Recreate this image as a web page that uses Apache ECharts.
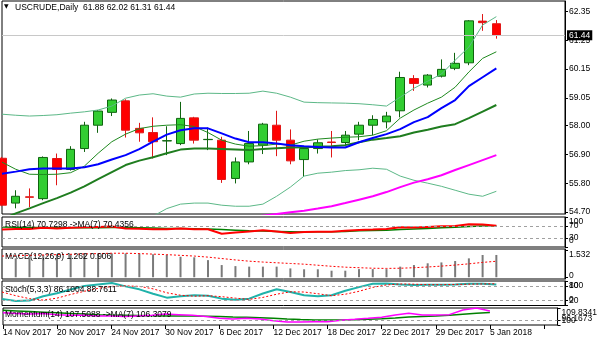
<!DOCTYPE html>
<html>
<head>
<meta charset="utf-8">
<script src="https://cdn.jsdelivr.net/npm/echarts@6/dist/echarts.min.js"></script>
<style>
  html, body { margin: 0; padding: 0; background: #fff; }
  #c { width: 600px; height: 343px; }
</style>
</head>
<body>
<div id="c"></div>
<script>
// ---- daily bars, USCRUDE ----
const dates = [
  '14 Nov 2017','15 Nov 2017','16 Nov 2017','17 Nov 2017','20 Nov 2017','21 Nov 2017','22 Nov 2017',
  '23 Nov 2017','24 Nov 2017','27 Nov 2017','28 Nov 2017','29 Nov 2017','30 Nov 2017','1 Dec 2017',
  '4 Dec 2017','5 Dec 2017','6 Dec 2017','7 Dec 2017','8 Dec 2017','11 Dec 2017','12 Dec 2017',
  '13 Dec 2017','14 Dec 2017','15 Dec 2017','18 Dec 2017','19 Dec 2017','20 Dec 2017','21 Dec 2017',
  '22 Dec 2017','26 Dec 2017','27 Dec 2017','28 Dec 2017','29 Dec 2017','2 Jan 2018','3 Jan 2018',
  '4 Jan 2018','5 Jan 2018'
];

// open, high, low, close
const ohlc = [
  [56.75,56.80,54.92,54.96],[55.04,55.53,54.84,55.30],[55.28,55.60,54.89,55.26],[55.21,56.82,55.15,56.78],
  [56.74,56.93,55.72,56.32],[56.32,57.21,56.28,57.09],[57.12,58.14,56.99,58.01],[58.01,58.59,57.72,58.55],
  [58.50,59.03,58.36,58.97],[58.94,59.00,57.54,57.82],[57.89,58.10,57.38,57.72],[57.73,58.31,56.74,57.38],
  [57.41,57.97,56.87,57.42],[57.31,58.90,57.25,58.27],[58.29,58.33,57.31,57.44],[57.46,57.92,57.06,57.47],
  [57.44,57.57,55.81,55.94],[55.98,56.78,55.79,56.61],[56.61,57.79,56.52,57.31],[57.25,58.10,56.91,58.05],
  [58.01,58.56,56.83,57.44],[57.44,57.85,56.52,56.65],[56.70,57.18,56.04,57.12],[57.12,57.47,56.93,57.34],
  [57.37,57.79,56.78,57.35],[57.35,57.79,57.21,57.63],[57.67,58.14,57.44,58.01],[58.01,58.39,57.63,58.23],
  [58.14,58.52,57.89,58.36],[58.56,60.05,58.31,59.83],[59.79,59.92,59.32,59.60],[59.54,59.96,59.45,59.92],
  [59.88,60.52,59.83,60.14],[60.18,60.77,60.11,60.37],[60.39,62.02,60.30,61.99],[61.98,62.25,61.61,61.92],
  [61.88,62.02,61.31,61.44]
];

// price overlays
const bandUpper = [58.43,58.39,58.36,58.38,58.41,58.47,58.52,58.59,58.74,59.04,59.16,59.21,59.12,59.08,59.20,
  59.23,59.22,59.22,59.23,59.31,59.23,59.08,58.89,58.87,58.86,58.85,58.83,58.79,58.74,59.08,59.42,59.69,59.96,
  60.49,60.99,61.83,62.15];
const bandLower = [null,null,null,null,null,null,null,null,null,null,null,54.54,54.83,55.00,55.04,55.04,54.96,
  54.92,54.92,55.00,55.30,55.65,56.07,56.18,56.22,56.28,56.31,56.37,56.33,56.07,55.91,55.80,55.68,55.53,55.38,
  55.30,55.49];
const maFast = [56.60,56.33,56.14,56.13,56.14,56.20,56.45,56.94,57.38,57.67,57.88,57.97,58.01,58.03,57.96,57.73,
  57.44,57.29,57.21,57.23,57.29,57.25,57.40,57.48,57.52,57.55,57.57,57.63,57.80,58.28,58.59,58.85,59.08,59.46,
  60.04,60.56,60.81];
const maBlue = [56.16,56.24,56.33,56.36,56.36,56.36,56.41,56.52,56.70,56.87,57.10,57.38,57.65,57.82,57.89,57.89,
  57.70,57.50,57.36,57.36,57.31,57.25,57.21,57.18,57.16,57.16,57.36,57.52,57.67,57.86,58.13,58.32,58.66,58.97,
  59.50,59.84,60.18];
const maMid = [54.42,54.65,54.84,55.04,55.23,55.44,55.68,55.95,56.22,56.49,56.66,56.79,56.94,57.08,57.12,57.12,
  57.10,57.08,57.06,57.10,57.13,57.16,57.17,57.19,57.21,57.25,57.36,57.46,57.52,57.59,57.73,57.84,57.96,58.05,
  58.28,58.53,58.78];
const maSlow = [null,null,null,null,null,null,null,null,null,null,null,null,null,null,null,null,null,null,
  54.50,54.56,54.62,54.69,54.75,54.83,54.92,55.04,55.17,55.30,55.46,55.65,55.82,55.95,56.10,56.30,56.49,56.68,56.87];

const priceTicks = [54.70,55.80,56.90,58.00,59.05,60.15,61.25,62.35];
const lastPrice = 61.44;

// RSI(14) and its MA(7)
const rsi = [58,60,60,64,62,64,66,67,68,62,61,59,59,62,59,59,44,48,52,56,52,47,50,51,51,54,57,58,60,66,65,67,
  69,70,76,75,70.73];
const rsiMa = [67,66,65,65,64,64,64,64,65,65,64,63,62,62,61,60,58,56,54,53,52,51,50,51,51,52,54,55,56,58,60,62,
  64,66,68,70,70.44];
const rsiLevels = [30,70];
const rsiEdges = [0,100];

// MACD(12,26,9)
const macdMain = [1.07,1.07,1.10,1.26,1.30,1.31,1.35,1.35,1.35,1.35,1.35,1.30,1.26,1.16,1.13,0.97,0.69,0.63,
  0.60,0.60,0.60,0.50,0.45,0.45,0.37,0.37,0.46,0.46,0.46,0.60,0.69,0.79,0.84,0.92,1.07,1.26,1.262];
const macdSignal = [1.20,1.22,1.24,1.26,1.28,1.30,1.32,1.34,1.36,1.36,1.34,1.31,1.28,1.24,1.20,1.14,1.06,0.98,
  0.91,0.86,0.82,0.78,0.74,0.68,0.62,0.57,0.54,0.51,0.50,0.51,0.54,0.58,0.63,0.69,0.76,0.84,0.906];
const macdTicks = [0,1.532];

// Stochastic(5,3,3)
const stochK = [27,18,20,38,50,65,80,86,92,78,66,48,32,38,42,40,28,23,28,49,66,55,42,38,42,60,75,89,90,86,84,
  85,85,86,89,89,86.1004];
const stochD = [55,40,28,22,30,45,58,70,78,80,78,68,52,42,38,40,36,30,25,33,46,56,55,48,40,46,58,74,84,88,87,
  85,85,86,87,88,88.7611];
const stochLevels = [20,80];
const stochEdges = [0,100];

// Momentum(14) and its MA(7)
const mom = [106,105.5,105,105.5,104.5,104,104,103.5,103.5,103,103.5,104,105,104.5,104,103,101.5,101,101.5,
  101,99.5,98.5,98.5,98.8,98.8,100,100.7,101.5,102.4,104.2,105.6,104.2,104.2,104.5,108.2,109.8,107.5088];
const momMa = [108,107.5,107,106.5,106,105.5,105,104.5,104.2,104,103.8,103.6,103.5,103.5,103.4,103.3,103,102.6,
  102.4,102,101.5,100.9,100.5,100.2,100.2,100.2,100.4,100.7,101.2,101.8,102.5,103,103.4,104,104.8,105.6,106.3079];
const momLevels = [100];
const momMin = 96.1673;
const momMax = 109.8341;

// ---- layout ----
const FONT = 'Liberation Sans';
const FS = 8.5;
const SLOTS = 42;                       // bars plus empty space on the right
const cats = dates.concat(new Array(SLOTS - dates.length).fill(''));

const panels = [
  { top: 1,   height: 213 },            // price
  { top: 217, height: 30 },             // RSI
  { top: 249, height: 30 },             // MACD
  { top: 281, height: 24.5 },           // Stoch
  { top: 308, height: 17 }              // Momentum
];

const grid = panels.map(p => ({
  left: 2, width: 563, top: p.top, height: p.height,
  show: true, borderColor: '#000', borderWidth: 1, backgroundColor: 'transparent'
}));

const xAxis = panels.map((p, i) => {
  const last = i === panels.length - 1;
  return {
    type: 'category', gridIndex: i, data: cats, boundaryGap: false,
    axisLine: { show: false },
    axisTick: last ? { show: true, interval: 3, length: 4, lineStyle: { color: '#000' } } : { show: false },
    axisLabel: last ? { show: true, interval: 3, align: 'left', margin: 3, fontFamily: FONT, fontSize: FS, color: '#000' }
                    : { show: false },
    splitLine: { show: false }
  };
});

// rich styles nudging labels that sit on a panel's top or bottom edge
const edgeRich = {
  dn: { padding: [9, 0, 0, 0], fontFamily: FONT, fontSize: FS, color: '#000' },
  up: { padding: [0, 0, 12, 0], fontFamily: FONT, fontSize: FS, color: '#000' },
  up2: { padding: [0, 0, 4, 0], fontFamily: FONT, fontSize: FS, color: '#000' }
};

function sideAxis(i, min, max, ticks, fmt, nudge, bare) {
  nudge = nudge || {};
  return {
    type: 'value', gridIndex: i, position: 'right', min: min, max: max, scale: true,
    axisLine: { show: !bare, lineStyle: { color: '#000' } },
    axisTick: { show: true, length: 3, inside: false, customValues: ticks, lineStyle: { color: '#000' } },
    splitLine: { show: false },
    axisLabel: {
      customValues: ticks, margin: 4, fontFamily: FONT, fontSize: FS, color: '#000', rich: edgeRich,
      showMinLabel: true, showMaxLabel: true, hideOverlap: false,
      formatter: v => {
        const s = fmt(v);
        for (const k in nudge) {
          if (Math.abs(v - Number(k)) < 1e-6) return '{' + nudge[k] + '|' + s + '}';
        }
        return s;
      }
    }
  };
}

const plain = v => String(v);
const fixed4 = v => v.toFixed(4);
const yAxis = [
  sideAxis(0, 54.624, 62.747, priceTicks, v => v.toFixed(2)),
  sideAxis(1, 0, 100, rsiLevels, plain),
  sideAxis(2, -0.1, 1.6, macdTicks, v => (v === 0 ? '0' : v.toFixed(3)), { 1.532: 'dn', 0: 'up2' }),
  sideAxis(3, 0, 100, stochLevels, plain),
  sideAxis(4, momMin, momMax, momLevels, plain),
  // extra label rows for the panel extremes, which overlap the level labels
  sideAxis(1, 0, 100, rsiEdges, plain, { 100: 'dn', 0: 'up' }, true),
  sideAxis(3, 0, 100, stochEdges, plain, { 100: 'dn', 0: 'up' }, true),
  sideAxis(4, momMin, momMax, [momMin], fixed4, { [momMin]: 'up' }, true),
  sideAxis(4, momMin, momMax, [momMax], fixed4, { [momMax]: 'dn' }, true)
];

function line(data, idx, color, width, type, z) {
  return {
    type: 'line', data: data, xAxisIndex: idx, yAxisIndex: idx,
    symbol: 'none', smooth: false, connectNulls: false, clip: true, silent: true,
    lineStyle: { color: color, width: width, type: type || 'solid' },
    z: z || 3
  };
}

function levels(values) {
  return {
    silent: true, symbol: 'none', label: { show: false },
    lineStyle: { color: '#a0a0a0', width: 1, type: [3, 3] },
    data: values.map(v => ({ yAxis: v }))
  };
}

const candleData = ohlc.map(d => [d[0], d[3], d[2], d[1]]);

const series = [
  {
    type: 'candlestick', data: candleData, xAxisIndex: 0, yAxisIndex: 0,
    barWidth: 9, clip: true, z: 2,
    itemStyle: {
      color: '#32cd32', borderColor: '#0f640f',
      color0: '#ff0000', borderColor0: '#e01818', borderWidth: 1
    },
    markLine: {
      silent: true, symbol: 'none',
      lineStyle: { color: '#c8c8c8', width: 1, type: 'solid' },
      label: {
        show: true, position: 'end', distance: 2, formatter: lastPrice.toFixed(2),
        color: '#fff', backgroundColor: '#000', padding: [1, 2, 0, 2],
        fontFamily: FONT, fontSize: FS
      },
      data: [{ yAxis: lastPrice }]
    }
  },
  line(bandUpper, 0, '#5cb887', 1),
  line(bandLower, 0, '#5cb887', 1),
  line(maFast, 0, '#1f8a1f', 1),
  line(maMid, 0, '#1f7d1f', 2),
  line(maBlue, 0, '#0000ff', 2),
  line(maSlow, 0, '#ff00ff', 2),

  Object.assign(line(rsiMa, 1, '#008000', 1.5), { markLine: levels(rsiLevels) }),
  line(rsi, 1, '#ff0000', 2),

  {
    type: 'bar', data: macdMain, xAxisIndex: 2, yAxisIndex: 2, barWidth: 2, silent: true,
    itemStyle: { color: '#7a7a7a' }
  },
  line(macdSignal, 2, '#ff0000', 1, [2, 2]),

  Object.assign(line(stochK, 3, '#20b2aa', 2), { markLine: levels(stochLevels) }),
  line(stochD, 3, '#ff0000', 1, [2, 2]),

  Object.assign(line(momMa, 4, '#008000', 1.5), { markLine: levels(momLevels) }),
  line(mom, 4, '#ff00ff', 1.5)
];

const txt = (x, y, s) => ({
  type: 'text', left: x, top: y, silent: true, z: 100,
  style: { text: s, fontFamily: FONT, fontSize: FS, fill: '#000' }
});

const graphic = [
  { type: 'text', left: 4, top: 3, silent: true, z: 100,
    style: { text: '\u25BC', fontFamily: 'DejaVu Sans', fontSize: 6, fill: '#000' } },
  txt(15, 3, 'USCRUDE,Daily  61.88 62.02 61.31 61.44'),
  txt(5, 220, 'RSI(14) 70.7298 ->MA(7) 70.4356'),
  txt(5, 252, 'MACD(12,26,9) 1.262 0.906'),
  txt(5, 285, 'Stoch(5,3,3) 86.1004 88.7611'),
  txt(5, 310, 'Momentum(14) 107.5088 ->MA(7) 106.3079')
];

const chart = echarts.init(document.getElementById('c'));
chart.setOption({
  animation: false,
  backgroundColor: '#fff',
  grid: grid,
  xAxis: xAxis,
  yAxis: yAxis,
  series: series,
  graphic: graphic
});
</script>
</body>
</html>
